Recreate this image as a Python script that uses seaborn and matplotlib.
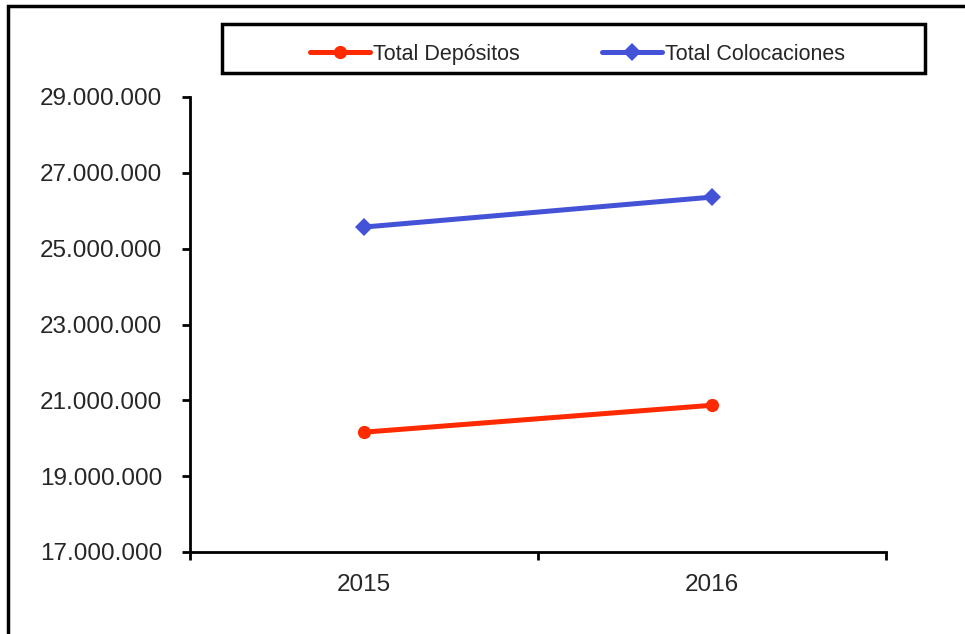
import pandas as pd
import matplotlib.pyplot as plt
import seaborn as sns
from matplotlib.patches import Rectangle
from matplotlib.ticker import FuncFormatter

# Data
years = ["2015", "2016"]
depositos = [20160000, 20870000]
colocaciones = [25570000, 26360000]
series_names = ["Total Depósitos", "Total Colocaciones"]
yticks = [17000000, 19000000, 21000000, 23000000, 25000000, 27000000, 29000000]

df = pd.DataFrame({
    "Año": years * 2,
    "Valor": depositos + colocaciones,
    "Serie": [series_names[0]] * len(years) + [series_names[1]] * len(years),
})

sns.set_style("white")
plt.rcParams["font.family"] = ["Liberation Sans", "DejaVu Sans"]

fig = plt.figure(figsize=(9.65, 6.34), dpi=100)
ax = fig.add_axes([190 / 965, 1 - 552 / 634, 696 / 965, 455 / 634])

palette = {series_names[0]: "#ff2a00", series_names[1]: "#4352d6"}
markers = {series_names[0]: "o", series_names[1]: "D"}
sns.lineplot(data=df, x="Año", y="Valor", hue="Serie", style="Serie",
             palette=palette, markers=markers, dashes=False,
             linewidth=3.6, markersize=9.5, markeredgewidth=0, ax=ax)

handles, labels = ax.get_legend_handles_labels()
ax.get_legend().remove()

ax.set_xlim(-0.5, 1.5)
ax.set_ylim(17000000, 29000000)
ax.set_yticks(yticks)
ax.yaxis.set_major_formatter(FuncFormatter(lambda v, p: f"{int(v):,}".replace(",", ".")))
ax.set_xticks([-0.5, 0.5, 1.5], minor=True)
ax.set_xlabel("")
ax.set_ylabel("")

for s in ["top", "right"]:
    ax.spines[s].set_visible(False)
for s in ["left", "bottom"]:
    ax.spines[s].set_color("black")
    ax.spines[s].set_linewidth(2)

ax.tick_params(axis="y", which="major", direction="out", length=6, width=2,
               color="black", left=True, labelsize=17.5, pad=14)
ax.tick_params(axis="x", which="major", length=0, labelsize=17.5, pad=16)
ax.tick_params(axis="x", which="minor", direction="out", length=6, width=2,
               color="black", bottom=True)

# outer border and legend box
fig.patches.append(Rectangle((8 / 965, -0.2), 1.2, 1.2 - 6 / 634,
                             transform=fig.transFigure, fill=False,
                             edgecolor="black", linewidth=2.5))
fig.patches.append(Rectangle((222 / 965, 1 - 73 / 634), 703 / 965, 49 / 634,
                             transform=fig.transFigure, fill=False,
                             edgecolor="black", linewidth=2.5))

fig.legend(handles, labels, loc="center",
           bbox_to_anchor=(226 / 965, 1 - 79 / 634, 703 / 965, 49 / 634),
           ncol=2, frameon=False, fontsize=15.5, handlelength=2.8,
           handletextpad=0.15, columnspacing=3.8, borderpad=0)

fig.savefig("out.png", dpi=100)
